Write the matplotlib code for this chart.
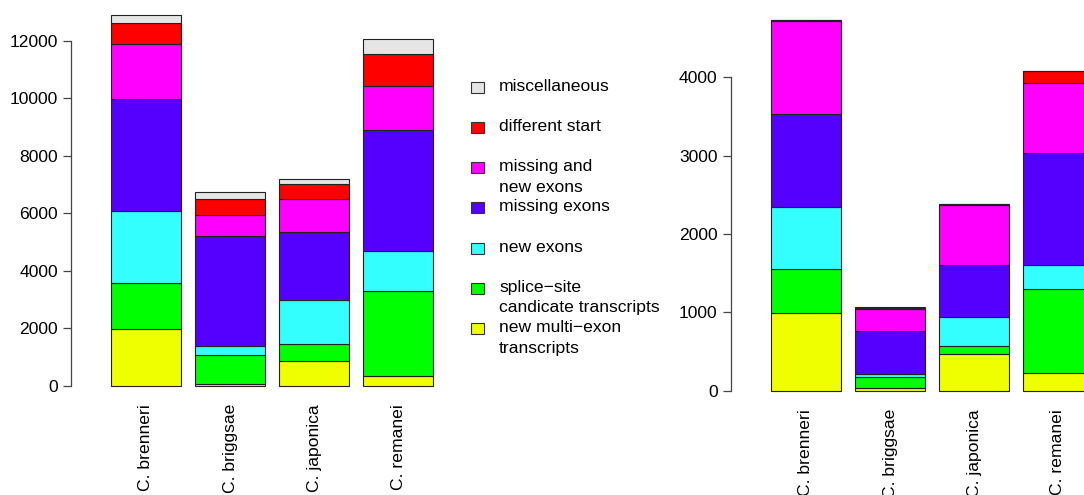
import matplotlib
matplotlib.use("Agg")
import matplotlib.pyplot as plt
from matplotlib.patches import Rectangle
import numpy as np

plt.rcParams['font.family'] = ['Liberation Sans', 'DejaVu Sans']

species = ["C. brenneri", "C. briggsae", "C. japonica", "C. remanei"]

# categories, bottom to top of each stack
categories = ["new multi\u2212exon\ntranscripts",
              "splice\u2212site\ncandicate transcripts",
              "new exons",
              "missing exons",
              "missing and\nnew exons",
              "different start",
              "miscellaneous"]
colors = ["#F0FF00", "#00FF00", "#33FFFF", "#5500FF", "#FF00FF", "#FF0000", "#E5E5E5"]

# left panel values
left_multi = [1970, 60, 880, 340]
left_splice = [1600, 1020, 580, 2960]
left_new = [2500, 320, 1530, 1380]
left_missing = [3900, 3820, 2350, 4220]
left_miss_new = [1900, 710, 1150, 1520]
left_diff_start = [740, 560, 520, 1110]
left_misc = [290, 260, 180, 540]

# right panel values
right_multi = [990, 34, 468, 221]
right_splice = [566, 136, 106, 1081]
right_new = [783, 39, 362, 298]
right_missing = [1188, 553, 664, 1434]
right_miss_new = [1187, 276, 766, 889]
right_diff_start = [20, 22, 20, 154]
right_misc = [2, 4, 2, 0]

left_ticks = [0, 2000, 4000, 6000, 8000, 10000, 12000]
right_ticks = [0, 1000, 2000, 3000, 4000]

W, H = 1084, 495
fig = plt.figure(figsize=(W / 100, H / 100), dpi=100)
FS = 12.6


def px_axes(x0, x1, y0, y1):
    # axes placed by pixel edges (y from top)
    return fig.add_axes([x0 / W, 1 - y1 / H, (x1 - x0) / W, (y1 - y0) / H])


def stacked(ax, stacks, ticks):
    x = 0.7 + 1.2 * np.arange(len(species))
    bottom = np.zeros(len(species))
    for vals, col in zip(stacks, colors):
        ax.bar(x, vals, width=1.0, bottom=bottom, color=col,
               edgecolor="#222222", linewidth=0.8)
        bottom += np.array(vals)
    for s in ["top", "right", "bottom"]:
        ax.spines[s].set_visible(False)
    ax.spines["left"].set_bounds(ticks[0], ticks[-1])
    ax.spines["left"].set_color("#444444")
    ax.spines["left"].set_linewidth(0.9)
    ax.set_yticks(ticks)
    ax.set_yticklabels([str(t) for t in ticks], fontsize=FS)
    ax.tick_params(axis="y", length=5.5, width=0.9, color="#444444", pad=4)
    ax.set_xticks(x)
    ax.set_xticklabels(species, rotation=90, fontsize=FS)
    ax.tick_params(axis="x", length=0, pad=8.6)


# left panel: 70 px per bar unit, zero at y=386 px
axl = px_axes(71, 450, 5, 392)
axl.set_xlim(0.2 - 40 / 70, 0.2 + 339 / 70)
k = 345.3 / 12000
axl.set_ylim(-(392 - 386) / k, (386 - 5) / k)
stacked(axl, [left_multi, left_splice, left_new, left_missing,
              left_miss_new, left_diff_start, left_misc], left_ticks)

# right panel
axr = px_axes(730.7, 1084, 5, 397)
axr.set_xlim(0.2 - (771 - 730.7) / 70, 0.2 + (1084 - 771) / 70)
k2 = 313.4 / 4000
axr.set_ylim(-(397 - 390.7) / k2, (390.7 - 5) / k2)
stacked(axr, [right_multi, right_splice, right_new, right_missing,
              right_miss_new, right_diff_start, right_misc], right_ticks)

# legend drawn in pixel space
lax = fig.add_axes([0, 0, 1, 1])
lax.set_xlim(0, W)
lax.set_ylim(H, 0)
lax.axis("off")
for i, (lab, col) in enumerate(zip(categories[::-1], colors[::-1])):
    yc = 87.3 + i * 40.2
    lax.add_patch(Rectangle((471, yc - 5.5), 13, 11, facecolor=col,
                            edgecolor="#333333", linewidth=0.8))
    for j, line in enumerate(lab.split("\n")):
        lax.text(499, yc - 1 + j * 20.5, line, fontsize=FS, va="center", ha="left")

fig.savefig("out.png", dpi=100)
